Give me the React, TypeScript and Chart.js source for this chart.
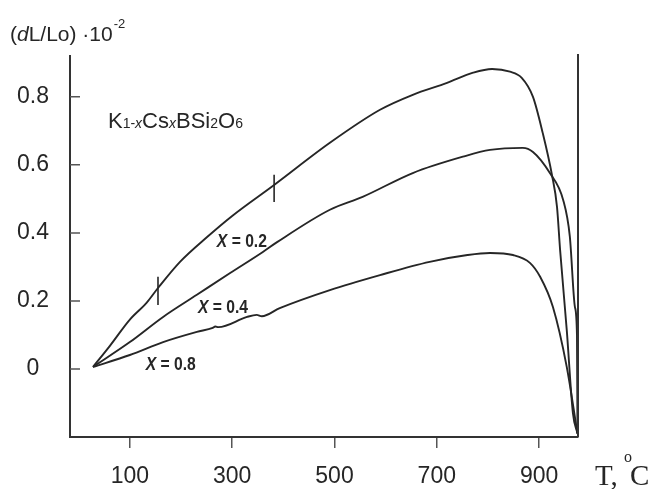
import React, { useEffect, useRef } from "react";
import { Chart, registerables } from "chart.js";

Chart.register(...registerables);

// Axis settings
const xTicks = [100, 300, 500, 700, 900];
const yTicks = [0, 0.2, 0.4, 0.6, 0.8];
const X_MIN = -17;
const X_MAX = 976;
const Y_MIN = -0.2;
const Y_MAX = 0.92;

// Curve X = 0.2 (top)
const t02 = [28, 61, 100, 133, 155, 198, 251, 300, 382, 491, 589, 653, 720, 771, 808, 843, 866, 888, 907, 925, 935, 941, 954, 966, 975];
const d02 = [0.006, 0.068, 0.145, 0.195, 0.238, 0.315, 0.388, 0.45, 0.541, 0.665, 0.762, 0.806, 0.841, 0.871, 0.882, 0.874, 0.856, 0.8, 0.694, 0.571, 0.476, 0.35, 0.115, -0.129, -0.19];

// Curve X = 0.4 (middle)
const t04 = [28, 100, 165, 231, 296, 360, 387, 491, 555, 653, 751, 804, 868, 888, 921, 947, 960, 970, 974, 975];
const d04 = [0.006, 0.079, 0.153, 0.218, 0.282, 0.344, 0.372, 0.468, 0.506, 0.576, 0.624, 0.644, 0.65, 0.638, 0.576, 0.497, 0.39, 0.182, 0.1, -0.19];

// Curve X = 0.8 (bottom)
const t08 = [28, 100, 165, 231, 262, 267, 273, 329, 348, 358, 393, 491, 589, 686, 760, 804, 849, 882, 902, 927, 954, 975];
const d08 = [0.006, 0.041, 0.079, 0.109, 0.121, 0.125, 0.123, 0.153, 0.159, 0.155, 0.179, 0.232, 0.276, 0.315, 0.335, 0.341, 0.335, 0.312, 0.271, 0.182, 0.006, -0.19];

// Short vertical marks on the X = 0.2 curve
const markT = [155, 382];
const markLow = [0.188, 0.491];
const markHigh = [0.271, 0.571];

// Curve labels
const curveLabelValues = ["0.2", "0.4", "0.8"];
const curveLabelT = [319, 282, 180];
const curveLabelD = [0.374, 0.179, 0.012];

const INK = "#262626";
const SANS = "'Liberation Sans', Arial, sans-serif";
const SERIF = "'Liberation Serif', 'Times New Roman', serif";

const toPts = (xs: number[], ys: number[]) => xs.map((x, i) => ({ x, y: ys[i] }));

const decorPlugin = {
  id: "decor",
  afterDraw(chart: any) {
    const { ctx, chartArea, scales } = chart;
    const xs = scales.x;
    const ys = scales.y;
    ctx.save();

    // right frame line
    ctx.strokeStyle = "#333";
    ctx.lineWidth = 2;
    ctx.beginPath();
    const rx = xs.getPixelForValue(X_MAX);
    ctx.moveTo(rx, chartArea.top - 2);
    ctx.lineTo(rx, chartArea.bottom);
    ctx.stroke();

    // inward y tick marks
    ctx.strokeStyle = "#555";
    ctx.lineWidth = 1.5;
    ctx.beginPath();
    yTicks.forEach((v) => {
      const py = ys.getPixelForValue(v);
      ctx.moveTo(chartArea.left, py);
      ctx.lineTo(chartArea.left + 10, py);
    });
    ctx.stroke();

    // curve labels (condensed bold)
    ctx.fillStyle = INK;
    ctx.textBaseline = "middle";
    curveLabelValues.forEach((val, i) => {
      const cx = xs.getPixelForValue(curveLabelT[i]);
      const cy = ys.getPixelForValue(curveLabelD[i]);
      const fX = `italic bold 18px ${SANS}`;
      const fR = `bold 18px ${SANS}`;
      ctx.font = fX;
      const wX = ctx.measureText("X").width;
      ctx.font = fR;
      const rest = " = " + val;
      const wR = ctx.measureText(rest).width;
      const sx = 0.87;
      const total = (wX + wR) * sx;
      ctx.save();
      ctx.translate(cx - total / 2, cy);
      ctx.scale(sx, 1);
      ctx.textAlign = "left";
      ctx.font = fX;
      ctx.fillText("X", 0, 0);
      ctx.font = fR;
      ctx.fillText(rest, wX, 0);
      ctx.restore();
    });

    // title (dL/Lo)·10^-2
    ctx.textBaseline = "alphabetic";
    ctx.textAlign = "left";
    let px = 10;
    const by = 41;
    const parts: [string, string][] = [
      ["(", `21px ${SANS}`],
      ["d", `italic 21px ${SANS}`],
      ["L/Lo)", `21px ${SANS}`],
      [" \u00B7", `21px ${SANS}`],
      ["10", `21px ${SANS}`],
    ];
    parts.forEach(([s, f]) => {
      ctx.font = f;
      ctx.fillText(s, px, by);
      px += ctx.measureText(s).width;
    });
    ctx.font = `13px ${SANS}`;
    ctx.fillText("-2", px + 1, 28);

    // formula K1-xCsxBSi2O6
    px = 108;
    const fy = 128;
    const big = `22px ${SANS}`;
    const small = `14px ${SANS}`;
    const smallIt = `italic 14px ${SANS}`;
    const fparts: [string, string][] = [
      ["K", big],
      ["1-", small],
      ["x", smallIt],
      ["Cs", big],
      ["x", smallIt],
      ["BSi", big],
      ["2", small],
      ["O", big],
      ["6", small],
    ];
    fparts.forEach(([s, f]) => {
      ctx.font = f;
      ctx.fillText(s, px, fy);
      px += ctx.measureText(s).width;
    });

    // x axis title  T, °C
    px = 595;
    const ty = 485;
    ctx.font = `29px ${SERIF}`;
    ctx.fillText("T, ", px, ty);
    px += ctx.measureText("T, ").width;
    ctx.font = `16px ${SERIF}`;
    ctx.fillText("o", px - 1, 462);
    px += ctx.measureText("o").width - 3;
    ctx.font = `29px ${SERIF}`;
    ctx.fillText("C", px, ty);

    ctx.restore();
  },
};

export default function App() {
  const ref = useRef<HTMLCanvasElement | null>(null);

  useEffect(() => {
    if (!ref.current) return;
    const lineDs = (xs: number[], ys: number[]) => ({
      data: toPts(xs, ys),
      borderColor: INK,
      borderWidth: 1.9,
      pointRadius: 0,
      fill: false,
      cubicInterpolationMode: "monotone" as const,
      clip: false as any,
    });
    const markDs = markT.map((t, i) => ({
      data: [
        { x: t, y: markLow[i] },
        { x: t, y: markHigh[i] },
      ],
      borderColor: INK,
      borderWidth: 1.6,
      pointRadius: 0,
      fill: false,
      tension: 0,
      clip: false as any,
    }));

    const chart = new Chart(ref.current, {
      type: "line",
      data: {
        datasets: [lineDs(t02, d02), lineDs(t04, d04), lineDs(t08, d08), ...markDs] as any,
      },
      options: {
        responsive: false,
        animation: false,
        devicePixelRatio: 1,
        layout: { padding: { left: 0, right: 77, top: 56, bottom: 0 } },
        plugins: {
          legend: { display: false },
          tooltip: { enabled: false },
          title: { display: false },
        },
        scales: {
          x: {
            type: "linear",
            min: X_MIN,
            max: X_MAX,
            afterBuildTicks: (s: any) => {
              s.ticks = xTicks.map((v) => ({ value: v }));
            },
            afterFit: (s: any) => {
              s.height = 52;
            },
            grid: {
              display: true,
              drawOnChartArea: false,
              drawTicks: true,
              tickLength: 11,
              color: "#555",
              lineWidth: 1.5,
            },
            border: { display: true, color: "#333", width: 2 },
            ticks: {
              color: INK,
              font: { family: SANS, size: 23 },
              padding: 15,
              maxRotation: 0,
              autoSkip: false,
            },
          },
          y: {
            type: "linear",
            min: Y_MIN,
            max: Y_MAX,
            afterBuildTicks: (s: any) => {
              s.ticks = yTicks.map((v) => ({ value: v }));
            },
            afterFit: (s: any) => {
              s.width = 70;
            },
            grid: {
              display: true,
              drawOnChartArea: false,
              drawTicks: false,
            },
            border: { display: true, color: "#333", width: 2 },
            ticks: {
              color: INK,
              font: { family: SANS, size: 23 },
              crossAlign: "center",
              padding: 21,
              autoSkip: false,
              callback: (v: any) => String(v),
            },
          },
        },
      },
      plugins: [decorPlugin],
    });
    return () => chart.destroy();
  }, []);

  return (
    <div style={{ position: "absolute", left: 0, top: 0, width: 655, height: 489, background: "#fff" }}>
      <canvas ref={ref} width={655} height={489} />
    </div>
  );
}
